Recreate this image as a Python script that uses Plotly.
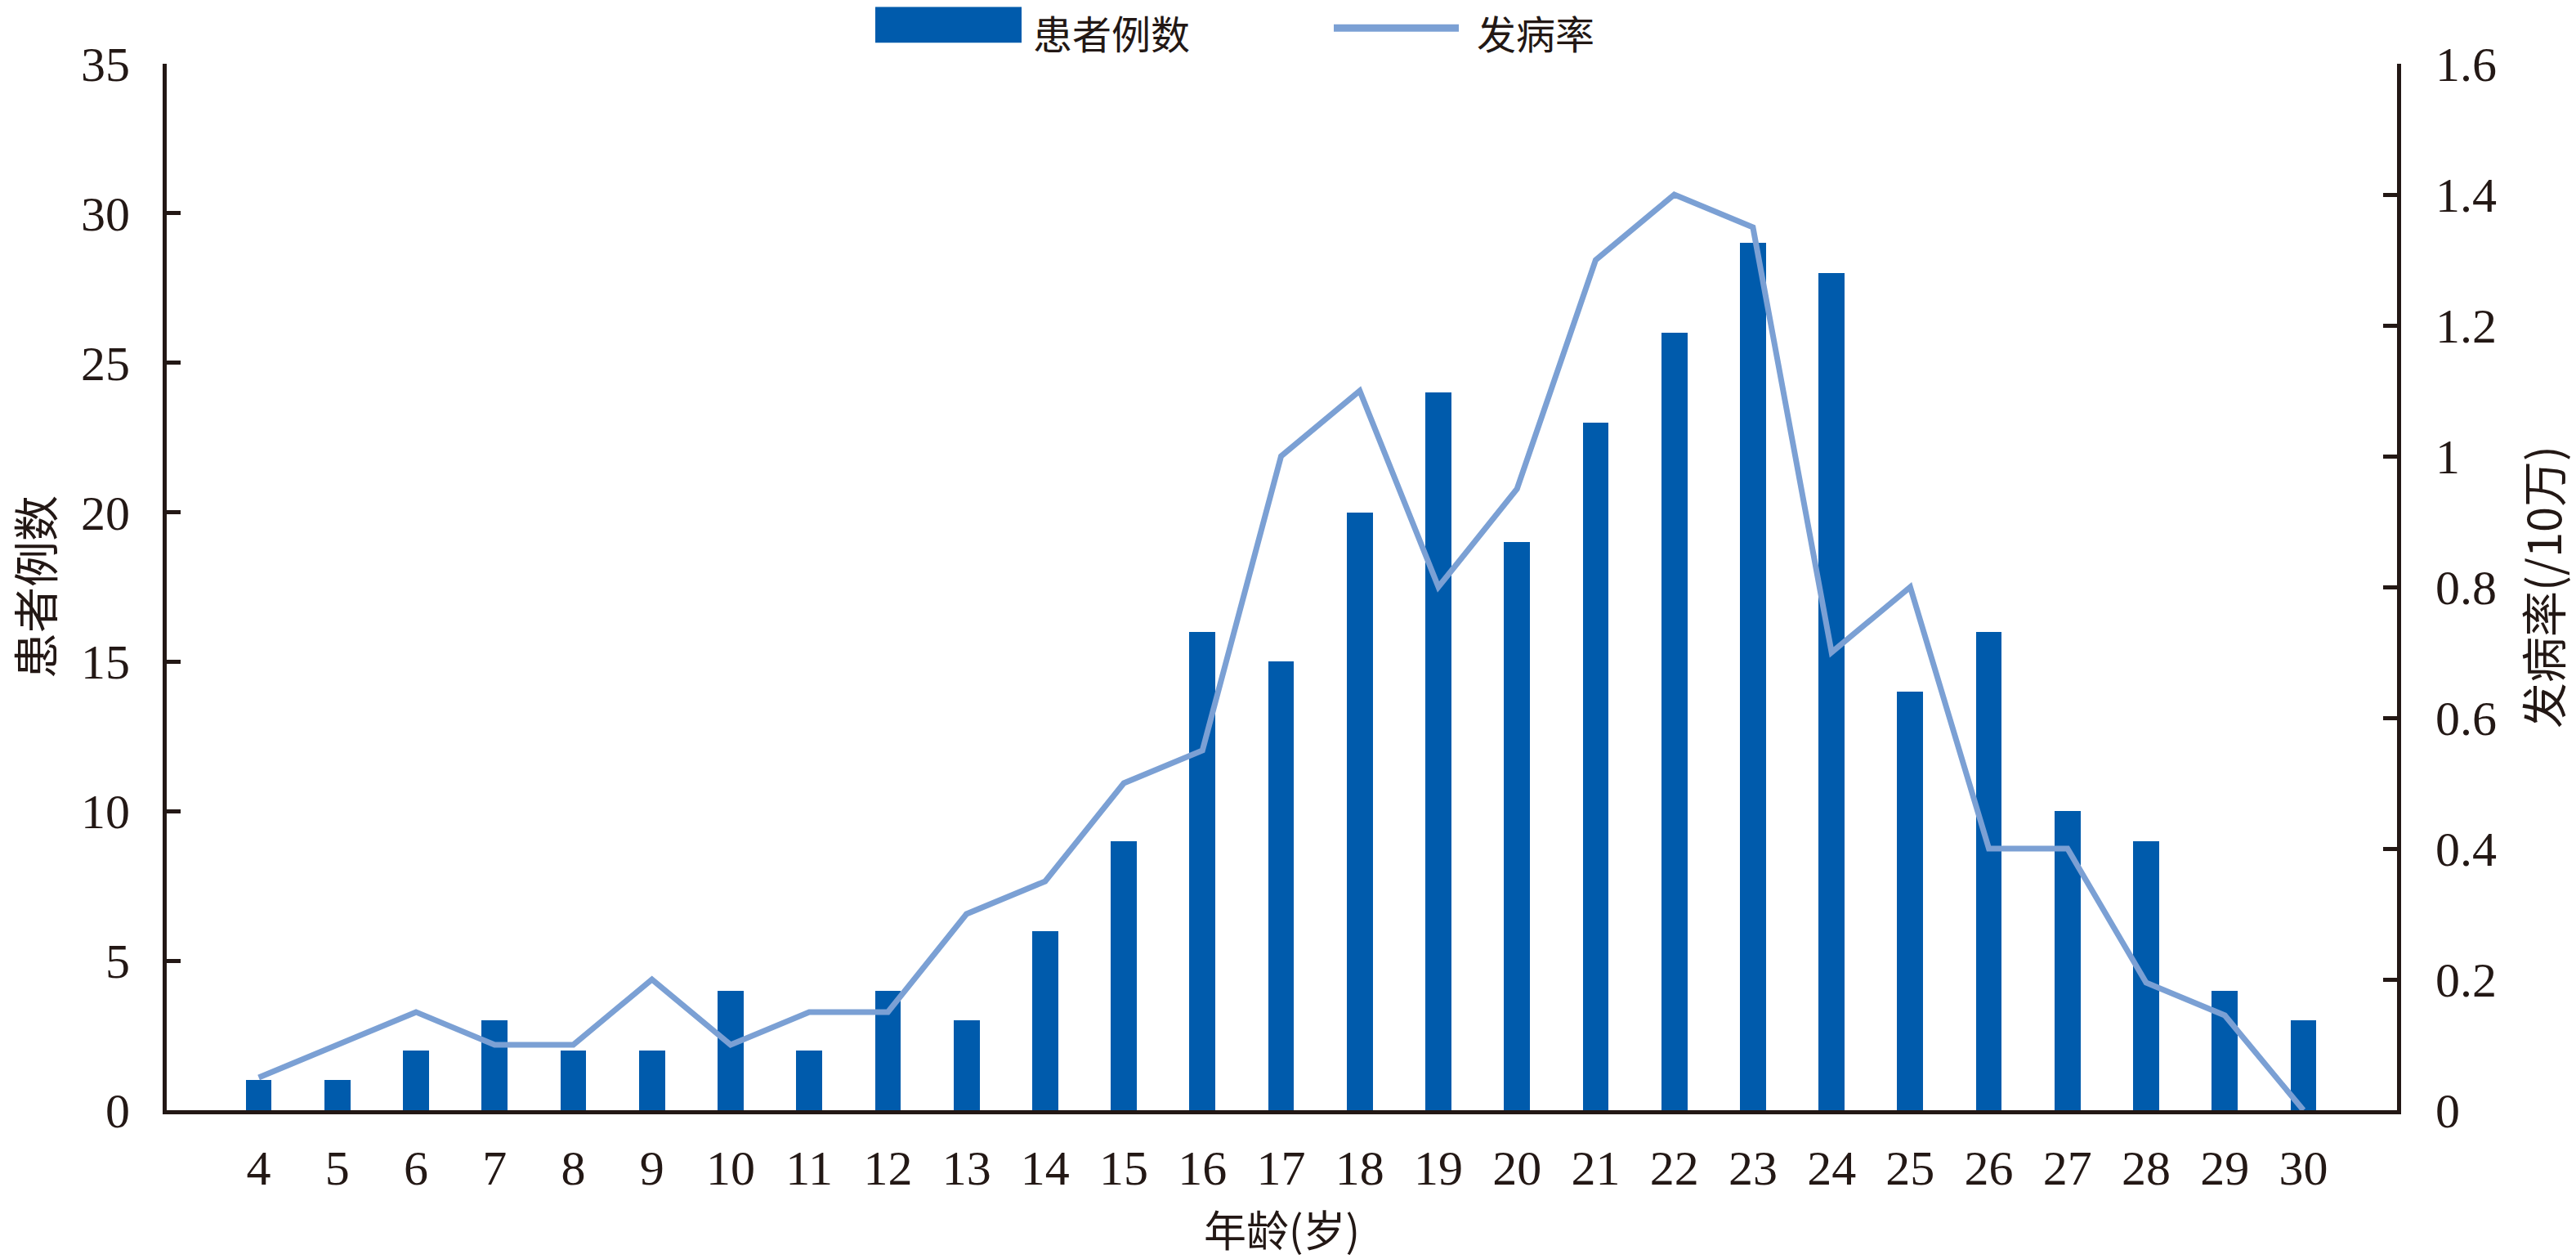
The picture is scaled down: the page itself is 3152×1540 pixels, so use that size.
import plotly.graph_objects as go

ages = list(range(4, 31))
patients = [1, 1, 2, 3, 2, 2, 4, 2, 4, 3, 6, 9, 16, 15, 20, 24, 19, 23, 26, 29, 28, 14, 16, 10, 9, 4, 3]
rate = [0.05, 0.10, 0.15, 0.10, 0.10, 0.20, 0.10, 0.15, 0.15, 0.30, 0.35, 0.50, 0.55, 1.00, 1.10,
        0.80, 0.95, 1.30, 1.40, 1.35, 0.70, 0.80, 0.40, 0.40, 0.195, 0.145, 0.0]

bar_name = "患者例数"
line_name = "发病率"
x_title = "年龄(岁)"
y1_title = "患者例数"
y2_title = "发病率(/10万)"

BAR_COLOR = "#005BAC"
LINE_COLOR = "#7BA0D4"
INK = "#231815"
FONT = "Liberation Serif, Noto Sans CJK SC, serif"
CJK = "Noto Sans CJK SC, sans-serif"

W, H = 3152, 1540
L, R, T, B = 204, 219, 78, 173

fig = go.Figure()
fig.add_trace(go.Bar(x=ages, y=patients, name=bar_name, marker=dict(color=BAR_COLOR, line=dict(width=0)),
                     width=0.33, yaxis="y", showlegend=False))
fig.add_trace(go.Scatter(x=ages, y=rate, name=line_name, mode="lines",
                         line=dict(color=LINE_COLOR, width=7), yaxis="y2", showlegend=False))

axis_common = dict(showgrid=False, zeroline=False, showline=True, linecolor=INK, linewidth=5,
                   tickfont=dict(family=FONT, size=60, color=INK))

fig.update_layout(
    width=W, height=H,
    margin=dict(l=L, r=R, t=T, b=B),
    paper_bgcolor="white", plot_bgcolor="white",
    bargap=0,
    xaxis=dict(range=[2.83, 31.19], tickmode="array", tickvals=ages, ticks="",
               ticklabelstandoff=14,
               title=dict(text=x_title, font=dict(family=CJK, size=52, color=INK), standoff=30),
               **axis_common),
    yaxis=dict(range=[0, 35], dtick=5, ticks="inside", ticklen=17, tickwidth=5, tickcolor=INK,
               ticklabelstandoff=28,
               title=dict(text=y1_title, font=dict(family=CJK, size=56, color=INK), standoff=28),
               **axis_common),
    yaxis2=dict(range=[0, 1.6], dtick=0.2, overlaying="y", side="right", ticks="inside",
                ticklen=17, tickwidth=5, tickcolor=INK, ticklabelstandoff=30,
                title=dict(text=y2_title, font=dict(family=CJK, size=56, color=INK), standoff=42),
                **axis_common),
)

# custom legend (wide swatches as in the reference)
pw, ph = W - L - R, H - T - B
def px(xp):
    return (xp - L) / pw
def py(yp):
    return (H - B - yp) / ph

fig.add_shape(type="rect", xref="paper", yref="paper", x0=px(1071), x1=px(1250), y0=py(52), y1=py(8),
              fillcolor=BAR_COLOR, line=dict(width=0))
fig.add_annotation(xref="paper", yref="paper", x=px(1262), y=py(39), text=bar_name, showarrow=False,
                   xanchor="left", yanchor="middle", font=dict(family=CJK, size=48, color=INK))
fig.add_shape(type="line", xref="paper", yref="paper", x0=px(1632), x1=px(1785), y0=py(34), y1=py(34),
              line=dict(color=LINE_COLOR, width=9))
fig.add_annotation(xref="paper", yref="paper", x=px(1805), y=py(39), text=line_name, showarrow=False,
                   xanchor="left", yanchor="middle", font=dict(family=CJK, size=48, color=INK))

fig.write_html("out.html", config={"displayModeBar": False},
               post_script="document.body.style.margin='0';")
